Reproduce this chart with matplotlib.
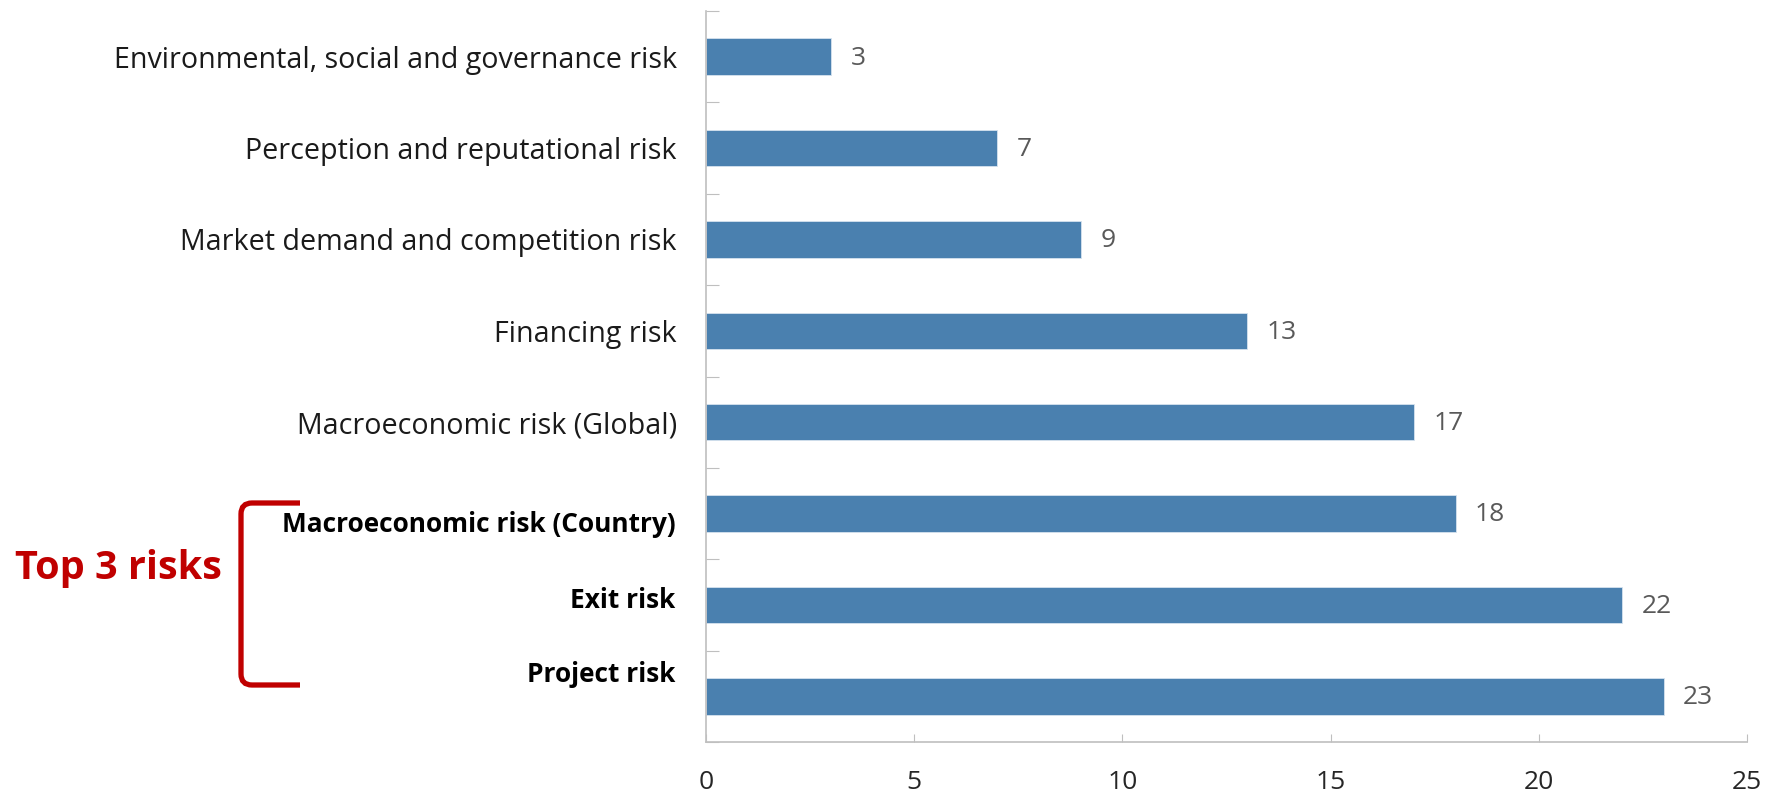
import matplotlib
matplotlib.use("Agg")
import matplotlib.pyplot as plt
from matplotlib.path import Path
from matplotlib.patches import PathPatch

plt.rcParams['font.family'] = ['Open Sans', 'DejaVu Sans']

# bottom to top
risks = [
    "Project risk",
    "Exit risk",
    "Macroeconomic risk (Country)",
    "Macroeconomic risk (Global)",
    "Financing risk",
    "Market demand and competition risk",
    "Perception and reputational risk",
    "Environmental, social and governance risk",
]
counts = [23, 22, 18, 17, 13, 9, 7, 3]
top_three = ["Project risk", "Exit risk", "Macroeconomic risk (Country)"]
bracket_label = "Top 3 risks"

bar_color = '#4A80AF'
axis_color = '#BFBFBF'
value_color = '#595959'
red = '#C00000'

W, H = 1773, 793
fig = plt.figure(figsize=(W / 100, H / 100), dpi=100)
ax = fig.add_axes([706 / W, 1 - 742 / H, (1747 - 706) / W, (742 - 11) / H])

ypos = list(range(len(risks)))
bars = ax.barh(ypos, counts, height=0.4, color=bar_color, edgecolor='#D6E2EE', linewidth=0.6)

for b, v in zip(bars, counts):
    ax.annotate(str(v), (b.get_width(), b.get_y() + b.get_height() / 2),
                xytext=(14, -1), textcoords='offset points',
                ha='left', va='center', fontsize=19, color=value_color)

ax.set_xlim(0, 25)
ax.set_ylim(-0.5, len(risks) - 0.5)
ax.set_xticks([0, 5, 10, 15, 20, 25])
ax.tick_params(axis='x', direction='in', length=6, color=axis_color, labelsize=19,
               labelcolor='#262626', pad=20)

# ticks between categories, labels in the middle
ax.set_yticks([y - 0.5 for y in ypos] + [len(risks) - 0.5])
ax.set_yticklabels([])
ax.tick_params(axis='y', which='major', direction='in', length=9, color=axis_color)
ax.set_yticks(ypos, minor=True)
ax.set_yticklabels([r if r not in top_three else "" for r in risks], minor=True)
ax.tick_params(axis='y', which='minor', length=0, labelsize=20.6, labelcolor='#1A1A1A', pad=21)

for s in ['top', 'right']:
    ax.spines[s].set_visible(False)
for s in ['left', 'bottom']:
    ax.spines[s].set_color(axis_color)
    ax.spines[s].set_linewidth(1.2)

# bold overlay labels for the top three (slightly off the bar centres, as in the source)
bold_shift = {"Project risk": 0.24, "Exit risk": 0.05, "Macroeconomic risk (Country)": -0.12}
for r in top_three:
    i = risks.index(r)
    ax.annotate(r, (0, i + bold_shift[r]), xycoords=('axes fraction', 'data'),
                xytext=(-22, 0), textcoords='offset points',
                ha='right', va='center', fontsize=18.9, fontweight='bold', color='black')

# red bracket
x0, x1 = 241 / W, 300 / W
yt, yb = 1 - 503 / H, 1 - 685 / H
rx, ry = 11 / W, 11 / H
verts = [(x1, yt), (x0 + rx, yt), (x0, yt), (x0, yt - ry), (x0, yb + ry), (x0, yb), (x0 + rx, yb), (x1, yb)]
codes = [Path.MOVETO, Path.LINETO, Path.CURVE3, Path.CURVE3, Path.LINETO, Path.CURVE3, Path.CURVE3, Path.LINETO]
fig.patches.append(PathPatch(Path(verts, codes), transform=fig.transFigure, fill=False,
                             edgecolor=red, linewidth=3.8, capstyle='butt'))
fig.text(118 / W, 1 - 569 / H, bracket_label, ha='center', va='center',
         fontsize=28.5, fontweight='bold', color=red)

fig.savefig('out.png', dpi=100)
